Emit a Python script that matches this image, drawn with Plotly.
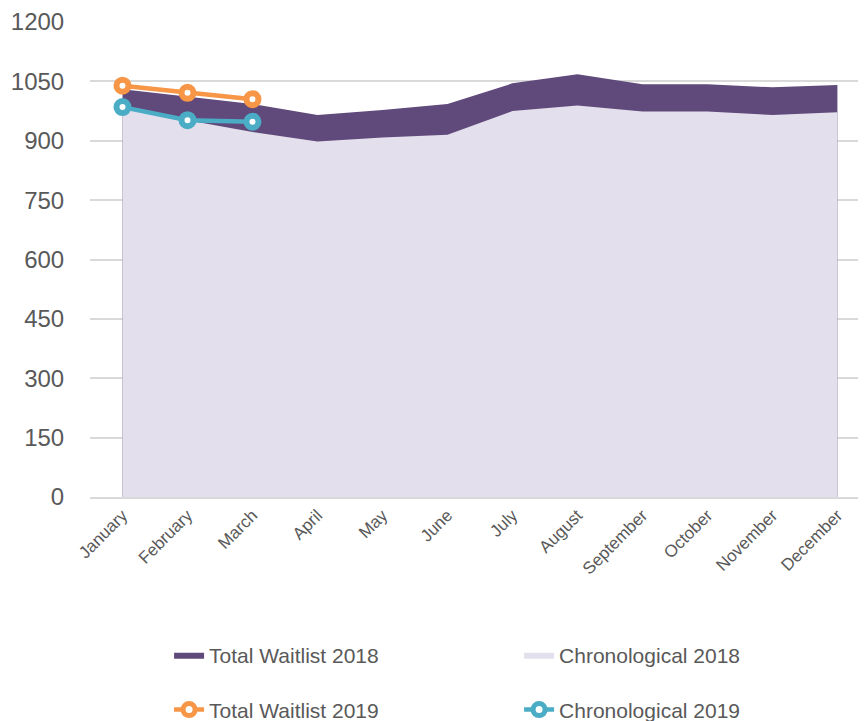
import plotly.graph_objects as go

months = ["January", "February", "March", "April", "May", "June", "July",
          "August", "September", "October", "November", "December"]
total_2018 = [1030, 1012, 993, 965, 978, 993, 1045, 1068, 1043, 1043, 1035, 1041]
chrono_2018 = [986, 952, 922, 898, 908, 915, 975, 989, 974, 974, 965, 972]
months_2019 = ["January", "February", "March"]
total_2019 = [1039, 1021, 1005]
chrono_2019 = [985, 952, 948]

y_ticks = [0, 150, 300, 450, 600, 750, 900, 1050, 1200]

DARK = "#604A7B"
LIGHT = "#E4DFEC"
ORANGE = "#F79646"
BLUE = "#4BACC6"
TEXT = "#595959"
GRID = "#D9D9D9"

fig = go.Figure()
fig.add_trace(go.Scatter(x=months, y=total_2018, name="Total Waitlist 2018",
                         mode="lines", line=dict(width=0, color=DARK),
                         fill="tozeroy", fillcolor=DARK, legend="legend"))
fig.add_trace(go.Scatter(x=months, y=chrono_2018, name="Chronological 2018",
                         mode="lines", line=dict(width=0, color=LIGHT),
                         fill="tozeroy", fillcolor=LIGHT, legend="legend"))
fig.add_trace(go.Scatter(x=months_2019, y=total_2019, name="Total Waitlist 2019",
                         mode="lines+markers", line=dict(width=4.5, color=ORANGE),
                         marker=dict(size=12, color="white", line=dict(width=6, color=ORANGE)),
                         legend="legend2"))
fig.add_trace(go.Scatter(x=months_2019, y=chrono_2019, name="Chronological 2019",
                         mode="lines+markers", line=dict(width=4.5, color=BLUE),
                         marker=dict(size=12, color="white", line=dict(width=6, color=BLUE)),
                         legend="legend2"))

legend_common = dict(orientation="h", xanchor="left", yanchor="middle",
                     xref="container", yref="container",
                     entrywidth=305, entrywidthmode="pixels",
                     font=dict(family="Liberation Sans, Arial, sans-serif", size=21, color=TEXT),
                     bgcolor="rgba(0,0,0,0)")

fig.update_layout(
    width=866, height=721,
    margin=dict(l=82, r=8, t=14, b=232, autoexpand=False),
    paper_bgcolor="white", plot_bgcolor="white",
    font=dict(family="Liberation Sans, Arial, sans-serif", color=TEXT),
    showlegend=True,
    legend=dict(x=0.186, y=0.1026, **legend_common),
    legend2=dict(x=0.186, y=0.0264, **legend_common),
    xaxis=dict(type="category", categoryarray=months, range=[-0.5, 11.44],
               showgrid=False, tickangle=-45, tickfont=dict(size=17, color=TEXT),
               showline=True, linecolor=GRID, linewidth=1.5, ticks="",
               zeroline=False, automargin=False),
    yaxis=dict(range=[0, 1200], tickvals=y_ticks, showgrid=True, gridcolor=GRID,
               gridwidth=1.5, tickfont=dict(size=24, color=TEXT), zeroline=False,
               ticks="outside", ticklen=20, tickcolor="rgba(0,0,0,0)", showline=False,
               automargin=False),
)

fig.write_html("out.html")
